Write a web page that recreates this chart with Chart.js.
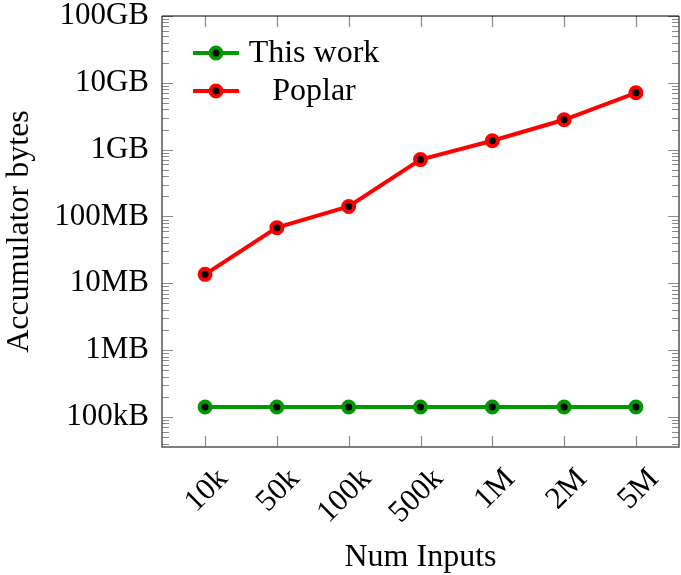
<!DOCTYPE html>
<html>
<head>
<meta charset="utf-8">
<script src="https://cdn.jsdelivr.net/npm/chart.js@4/dist/chart.umd.min.js"></script>
<style>
  html, body { margin: 0; padding: 0; background: #fff; }
  #wrap { width: 681px; height: 575px; }
</style>
</head>
<body>
<div id="wrap"><canvas id="myChart" width="681" height="575"></canvas></div>
<script>
// data
const inputs = ["10k", "50k", "100k", "500k", "1M", "2M", "5M"];
const thisWork = [1.41e5, 1.41e5, 1.41e5, 1.41e5, 1.41e5, 1.41e5, 1.41e5];
const poplar = [1.36e7, 6.8e7, 1.41e8, 7.1e8, 1.36e9, 2.8e9, 7.1e9];
const yTicks = [1e5, 1e6, 1e7, 1e8, 1e9, 1e10, 1e11];
const yTickLabels = ["100kB", "1MB", "10MB", "100MB", "1GB", "10GB", "100GB"];

const FONT = "'Liberation Serif', 'Times New Roman', serif";
const GREEN = "#009a00";
const RED = "#ff0000";

const toPoints = arr => arr.map((v, i) => ({x: i, y: v}));

function series(label, values, color) {
    return {
        label: label,
        data: toPoints(values),
        borderColor: color,
        borderWidth: 4,
        pointRadius: 5.5,
        pointHoverRadius: 5.5,
        pointBorderWidth: 4,
        pointBorderColor: color,
        pointBackgroundColor: "#000",
        tension: 0
    };
}

// pgfplots-like frame with inward ticks and a legend inside the plot
const framePlugin = {
    id: "frame",
    beforeDatasetsDraw(chart) {
        const ctx = chart.ctx;
        const a = chart.chartArea;
        const xs = chart.scales.x, ys = chart.scales.y;
        ctx.save();
        ctx.strokeStyle = "#8a8a8a";
        ctx.lineWidth = 1.2;
        ctx.beginPath();
        // x ticks, top and bottom
        xs.ticks.forEach(t => {
            const px = Math.round(xs.getPixelForValue(t.value)) + 0.5;
            ctx.moveTo(px, a.bottom); ctx.lineTo(px, a.bottom - 11);
            ctx.moveTo(px, a.top); ctx.lineTo(px, a.top + 11);
        });
        // y major and minor ticks, both sides
        for (let e = 4; e <= 11; e++) {
            for (let m = 1; m <= 9; m++) {
                const v = m * Math.pow(10, e);
                if (v < ys.min || v > ys.max) continue;
                const py = Math.round(ys.getPixelForValue(v)) + 0.5;
                const len = m === 1 ? 11 : 7;
                ctx.moveTo(a.left, py); ctx.lineTo(a.left + len, py);
                ctx.moveTo(a.right, py); ctx.lineTo(a.right - len, py);
            }
        }
        ctx.stroke();
        ctx.lineWidth = 1.5;
        ctx.strokeStyle = "#555";
        ctx.beginPath();
        ctx.moveTo(a.left, a.top); ctx.lineTo(a.left, a.bottom);
        ctx.lineTo(a.right, a.bottom); ctx.lineTo(a.right, a.top);
        ctx.stroke();
        ctx.strokeStyle = "#000";
        ctx.lineWidth = 1.2;
        ctx.beginPath();
        ctx.moveTo(a.left, a.top); ctx.lineTo(a.right, a.top);
        ctx.stroke();
        ctx.restore();
    },
    afterDraw(chart) {
        const ctx = chart.ctx;
        const a = chart.chartArea;
        ctx.save();
        ctx.font = "32px " + FONT;
        ctx.textAlign = "center";
        ctx.textBaseline = "middle";
        chart.data.datasets.forEach((ds, i) => {
            const y = a.top + 37 + i * 38;
            const x0 = a.left + 31;
            ctx.strokeStyle = ds.borderColor;
            ctx.lineWidth = ds.borderWidth;
            ctx.beginPath();
            ctx.moveTo(x0, y); ctx.lineTo(x0 + 46, y);
            ctx.stroke();
            ctx.beginPath();
            ctx.arc(x0 + 23, y, ds.pointRadius, 0, Math.PI * 2);
            ctx.fillStyle = "#000";
            ctx.fill();
            ctx.lineWidth = ds.pointBorderWidth;
            ctx.stroke();
            ctx.fillStyle = "#000";
            ctx.fillText(ds.label, a.left + 152, y + 1);
        });
        ctx.restore();
    }
};

const config = {
    type: "line",
    data: {
        datasets: [
            series("This work", thisWork, GREEN),
            series("Poplar", poplar, RED)
        ]
    },
    options: {
        responsive: false,
        animation: false,
        layout: { autoPadding: false, padding: { top: 16, right: 2, left: 0, bottom: 0 } },
        plugins: {
            legend: { display: false },
            tooltip: { enabled: false }
        },
        scales: {
            x: {
                type: "linear",
                min: -0.6,
                max: 6.6,
                grid: { display: false, drawTicks: false },
                border: { display: false },
                afterBuildTicks: s => { s.ticks = inputs.map((_, i) => ({value: i})); },
                afterFit: s => {
                    s.height = 128;
                    s.paddingLeft = 0; s.paddingRight = 0;
                },
                ticks: {
                    autoSkip: false,
                    minRotation: 45,
                    maxRotation: 45,
                    padding: 14,
                    labelOffset: 18,
                    color: "#000",
                    font: { family: FONT, size: 31 },
                    callback: v => inputs[v]
                },
                title: {
                    display: true,
                    text: "Num Inputs",
                    color: "#000",
                    padding: { top: 0, bottom: -2 },
                    font: { family: FONT, size: 32 }
                }
            },
            y: {
                type: "logarithmic",
                min: Math.pow(10, 4.55),
                max: 1e11,
                grid: { display: false, drawTicks: false },
                border: { display: false },
                afterBuildTicks: s => { s.ticks = yTicks.map(v => ({value: v})); },
                afterFit: s => {
                    s.width = 162;
                    s.paddingTop = 0; s.paddingBottom = 0;
                },
                ticks: {
                    autoSkip: false,
                    padding: 13,
                    color: "#000",
                    font: { family: FONT, size: 31 },
                    callback: v => yTickLabels[yTicks.indexOf(v)]
                },
                title: {
                    display: true,
                    text: "Accumulator bytes",
                    color: "#000",
                    padding: 0,
                    font: { family: FONT, size: 32 }
                }
            }
        }
    },
    plugins: [framePlugin]
};

const myChart = new Chart(document.getElementById("myChart"), config);
</script>
</body>
</html>
